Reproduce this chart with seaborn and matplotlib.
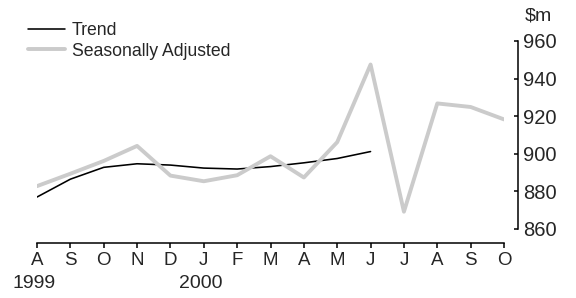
import numpy as np
import pandas as pd
import matplotlib
matplotlib.use("Agg")
import matplotlib.pyplot as plt
import seaborn as sns

months = ["A", "S", "O", "N", "D", "J", "F", "M", "A", "M", "J", "J", "A", "S", "O"]
year_labels = {0: "1999", 5: "2000"}
trend = [877, 886.5, 892.8, 894.7, 894.0, 892.4, 891.9, 893.2, 895.2, 897.5, 901.2,
         None, None, None, None]
seas_adj = [882.8, 889.4, 896.2, 904.2, 888.4, 885.4, 888.6, 898.7, 887.4, 906.2,
            947.5, 869.2, 926.8, 924.9, 918.3]
yticks = [860, 880, 900, 920, 940, 960]

sns.set_style("white")
plt.rcParams["font.family"] = ["Liberation Sans", "DejaVu Sans"]

pos = list(range(len(months)))
df = pd.DataFrame({
    "pos": pos * 2,
    "value": [np.nan if v is None else v for v in trend] + seas_adj,
    "series": ["Trend"] * len(pos) + ["Seasonally Adjusted"] * len(pos),
})

fig = plt.figure(figsize=(5.76, 2.98), dpi=100)
W, H = 576, 298
ax = fig.add_axes([37 / W, (H - 229) / H, (504 - 37) / W, (229 - 41) / H])

sns.lineplot(data=df, x="pos", y="value", hue="series", ax=ax,
             hue_order=["Trend", "Seasonally Adjusted"],
             palette={"Trend": "black", "Seasonally Adjusted": "#cbcbcb"},
             size="series", sizes={"Trend": 1.15, "Seasonally Adjusted": 2.8},
             size_order=["Trend", "Seasonally Adjusted"], legend=True)
for line in ax.get_lines():
    if line.get_label() == "Trend":
        line.set_zorder(3)

ax.set_xlim(0, 14)
ax.set_ylim(860, 960)
ax.set_xlabel("")
ax.set_ylabel("")

for s in ["top", "left"]:
    ax.spines[s].set_visible(False)
ax.spines["bottom"].set_position(("outward", 10))
ax.spines["bottom"].set_bounds(0, 14)
ax.spines["right"].set_position(("outward", 10))
ax.spines["right"].set_bounds(860, 960)
for s in ["bottom", "right"]:
    ax.spines[s].set_color("black")
    ax.spines[s].set_linewidth(1.1)

ax.set_xticks(pos)
ax.set_xticklabels(months)
ax.set_yticks(yticks)
ax.set_yticklabels([str(t) for t in yticks])
ax.yaxis.tick_right()
ax.tick_params(axis="x", direction="out", length=3.8, width=1.1, color="black",
               labelsize=13.5, pad=3, bottom=True)
ax.tick_params(axis="y", direction="in", length=3.2, width=1.1, color="black",
               labelsize=14.5, pad=4, right=True, left=False)

for i, yr in year_labels.items():
    ax.annotate(yr, xy=(i, 0), xycoords=("data", "axes fraction"),
                xytext=(-2, -39), textcoords="offset points",
                ha="center", va="center", fontsize=14)

fig.text(525 / W, 1 - 16 / H, "$m", ha="left", va="center", fontsize=14)

handles, labels = ax.get_legend_handles_labels()
ax.legend(handles=handles, labels=labels, loc="upper left",
          bbox_to_anchor=(28 / W, 1 - 22 / H), bbox_transform=fig.transFigure,
          frameon=False, borderaxespad=0, borderpad=0, fontsize=12.7,
          handlelength=2.1, handletextpad=0.4, labelspacing=0.2)

fig.savefig("out.png", dpi=100)
